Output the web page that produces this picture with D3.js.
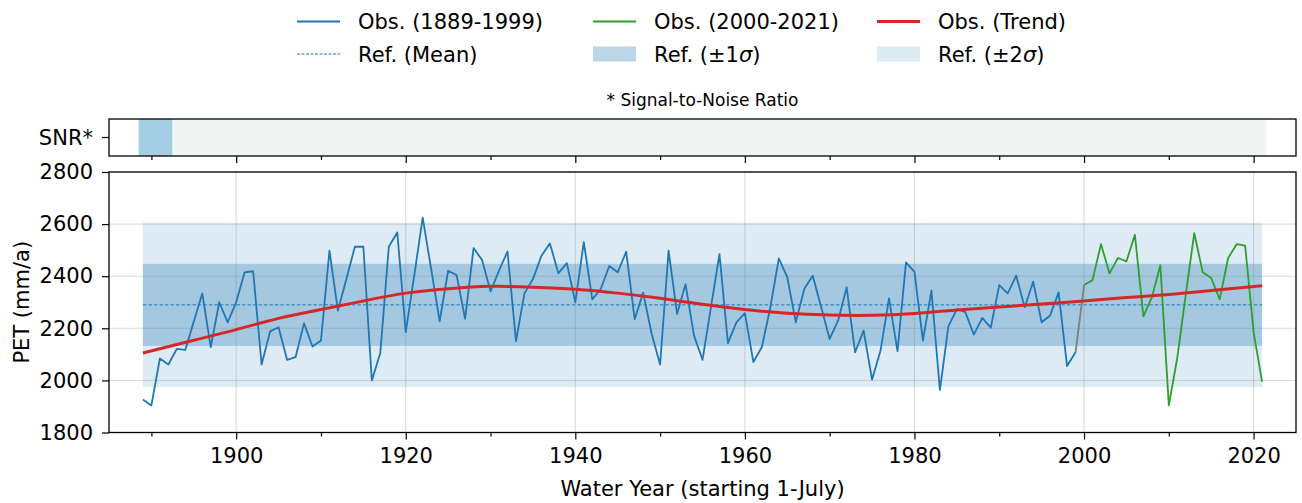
<!DOCTYPE html>
<html><head><meta charset="utf-8">
<script src="https://cdn.jsdelivr.net/npm/d3@7"></script>
<style>body{margin:0;background:#fff} text{font-family:"DejaVu Sans",sans-serif;fill:#000}</style>
</head><body><svg id="c" width="1302" height="503"></svg>
<script>
// ---- data ----
const obs1Start = 1889;
const obs1 = [
  1927,1904,2084,2061,2121,2117,2226,2334,2128,2300,2223,      // 1889-1899
  2300,2415,2419,2061,2188,2204,2079,2089,2219,2130,           // 1900s
  2153,2498,2268,2389,2513,2513,2000,2105,2513,2568,           // 1910s
  2185,2402,2625,2427,2227,2421,2404,2236,2508,2462,           // 1920s
  2342,2421,2495,2151,2334,2389,2478,2526,2411,2450,           // 1930s
  2300,2531,2311,2351,2439,2415,2494,2235,2337,2179,           // 1940s
  2061,2498,2255,2369,2172,2079,2281,2485,2143,2223,           // 1950s
  2258,2070,2128,2280,2468,2396,2223,2351,2402,2281,           // 1960s
  2159,2230,2357,2108,2191,2003,2115,2315,2112,2453,           // 1970s
  2417,2153,2345,1963,2207,2274,2262,2176,2240,2202,           // 1980s
  2366,2334,2402,2281,2379,2223,2249,2338,2055,2108            // 1990s
];
const obs2Start = 2000;
const obs2 = [
  2366,2385,2523,2411,2470,2457,2559,2246,2319,2442,
  1904,2087,2330,2565,2415,2393,2311,2470,2523,2517,
  2185,1994
];
const trendYears  = [1889,1895,1900,1905,1910,1915,1920,1925,1930,1935,1940,1945,1950,1955,1960,1965,1970,1975,1980,1985,1990,1995,2000,2005,2010,2015,2021];
const trendValues = [2105,2154,2195,2238,2272,2305,2335,2352,2361,2358,2350,2335,2315,2292,2272,2258,2251,2250,2257,2270,2282,2293,2305,2318,2330,2345,2363];
const refMean = 2290;
const refSigma = 157.5;
const refSpan = [1889, 2021];
const snrSegments = [[1889, 1892], [1893, 2021]];
const snrColors = ["#a6cee3", "#f3f5f4"];
const xMajorTicks = [1900, 1920, 1940, 1960, 1980, 2000, 2020];
const xMinorTicks = [1890, 1910, 1930, 1950, 1970, 1990, 2010];
const yTicks = [1800, 2000, 2200, 2400, 2600, 2800];
const legendRows = [
  [{label:["Obs. (1889-1999)"], type:"line", color:"#1f77b4", w:1.8},
   {label:["Obs. (2000-2021)"], type:"line", color:"#2ca02c", w:1.8},
   {label:["Obs. (Trend)"], type:"line", color:"#d62728", w:3}],
  [{label:["Ref. (Mean)"], type:"dash", color:"#1f77b4", w:1},
   {label:["Ref. (\u00b11", "\u03c3", ")"], type:"patch", color:"#bcd6e8"},
   {label:["Ref. (\u00b12", "\u03c3", ")"], type:"patch", color:"#ddebf4"}]
];

// ---- layout ----
const FS = 21;
const svg = d3.select("#c");
const L = 109, R = 1296;
const main = {top:172, bottom:432.5};
const snr = {top:119, bottom:156};
const x = d3.scaleLinear().domain([1885, 2025]).range([L, R]);
const y = d3.scaleLinear().domain([1800, 2800]).range([main.bottom, main.top]);

const C0 = "#1f77b4";

// bands
const g = svg.append("g");
g.append("rect").attr("x", x(refSpan[0])).attr("width", x(refSpan[1]) - x(refSpan[0]))
  .attr("y", y(refMean + 2*refSigma)).attr("height", y(refMean - 2*refSigma) - y(refMean + 2*refSigma))
  .attr("fill", C0).attr("fill-opacity", 0.15);
g.append("rect").attr("x", x(refSpan[0])).attr("width", x(refSpan[1]) - x(refSpan[0]))
  .attr("y", y(refMean + refSigma)).attr("height", y(refMean - refSigma) - y(refMean + refSigma))
  .attr("fill", C0).attr("fill-opacity", 0.3);

// grid
const grid = svg.append("g").attr("stroke", "#808080").attr("stroke-opacity", 0.3).attr("stroke-width", 1);
xMajorTicks.forEach(t => grid.append("line").attr("x1", x(t)).attr("x2", x(t)).attr("y1", main.top).attr("y2", main.bottom));
yTicks.forEach(t => grid.append("line").attr("x1", L).attr("x2", R).attr("y1", y(t)).attr("y2", y(t)));

// mean line
svg.append("line").attr("x1", x(refSpan[0])).attr("x2", x(refSpan[1]))
  .attr("y1", y(refMean)).attr("y2", y(refMean))
  .attr("stroke", C0).attr("stroke-width", 1).attr("stroke-dasharray", "3.5,2");

// observations
const d1 = obs1.map((v, i) => [obs1Start + i, v]);
const d2 = obs2.map((v, i) => [obs2Start + i, v]);
const line = d3.line().x(d => x(d[0])).y(d => y(d[1]));
svg.append("path").attr("d", line([d1[d1.length-1], d2[0]])).attr("fill", "none")
  .attr("stroke", "#7f7f7f").attr("stroke-width", 1.8);
svg.append("path").attr("d", line(d1)).attr("fill", "none").attr("stroke", C0).attr("stroke-width", 1.8).attr("stroke-linejoin", "round");
svg.append("path").attr("d", line(d2)).attr("fill", "none").attr("stroke", "#2ca02c").attr("stroke-width", 1.8).attr("stroke-linejoin", "round");

// trend
const trend = trendYears.map((t, i) => [t, trendValues[i]]);
svg.append("path").attr("d", d3.line().x(d => x(d[0])).y(d => y(d[1])).curve(d3.curveNatural)(trend))
  .attr("fill", "none").attr("stroke", "#d62728").attr("stroke-width", 3).attr("stroke-linecap", "butt");

// main frame
svg.append("rect").attr("x", L).attr("y", main.top).attr("width", R - L).attr("height", main.bottom - main.top)
  .attr("fill", "none").attr("stroke", "#000").attr("stroke-width", 1.3);

// axes
const xAxis = svg.append("g").attr("transform", `translate(0,${main.bottom})`)
  .call(d3.axisBottom(x).tickValues(xMajorTicks).tickFormat(d3.format("d")).tickSize(7).tickPadding(9));
const xMinor = svg.append("g").attr("transform", `translate(0,${main.bottom})`)
  .call(d3.axisBottom(x).tickValues(xMinorTicks).tickFormat("").tickSize(4));
const yAxis = svg.append("g").attr("transform", `translate(${L},0)`)
  .call(d3.axisLeft(y).tickValues(yTicks).tickFormat(d3.format("d")).tickSize(7).tickPadding(9));
[xAxis, xMinor, yAxis].forEach(a => {
  a.select(".domain").remove();
  a.selectAll("line").attr("stroke", "#000").attr("stroke-width", 1.2);
  a.selectAll("text").attr("font-size", FS).attr("font-family", "DejaVu Sans");
});

// SNR panel
snrSegments.forEach((s, i) => {
  svg.append("rect").attr("x", x(s[0] - 0.5)).attr("width", x(s[1] + 0.5) - x(s[0] - 0.5))
    .attr("y", snr.top).attr("height", snr.bottom - snr.top).attr("fill", snrColors[i]);
});
svg.append("rect").attr("x", L).attr("y", snr.top).attr("width", R - L).attr("height", snr.bottom - snr.top)
  .attr("fill", "none").attr("stroke", "#000").attr("stroke-width", 1.3);
const sx1 = svg.append("g").attr("transform", `translate(0,${snr.bottom})`)
  .call(d3.axisBottom(x).tickValues(xMajorTicks).tickFormat("").tickSize(7));
const sx2 = svg.append("g").attr("transform", `translate(0,${snr.bottom})`)
  .call(d3.axisBottom(x).tickValues(xMinorTicks).tickFormat("").tickSize(4));
[sx1, sx2].forEach(a => { a.select(".domain").remove(); a.selectAll("line").attr("stroke", "#000").attr("stroke-width", 1.2); });
const snrY = (snr.top + snr.bottom) / 2;
svg.append("line").attr("x1", L - 7).attr("x2", L).attr("y1", snrY).attr("y2", snrY).attr("stroke", "#000").attr("stroke-width", 1.2);
svg.append("text").attr("x", L - 16).attr("y", snrY).attr("dy", "0.35em").attr("text-anchor", "end")
  .attr("font-size", FS).text("SNR*");
svg.append("text").attr("x", (L + R) / 2).attr("y", 106).attr("text-anchor", "middle")
  .attr("font-size", 17).text("* Signal-to-Noise Ratio");

// axis labels
svg.append("text").attr("x", (L + R) / 2).attr("y", 496).attr("text-anchor", "middle")
  .attr("font-size", FS).text("Water Year (starting 1-July)");
svg.append("text").attr("transform", `translate(29,${(main.top + main.bottom) / 2}) rotate(-90)`)
  .attr("text-anchor", "middle").attr("font-size", FS).text("PET (mm/a)");

// legend
const colX = [297, 593, 877];
const rowY = [21.5, 54];
legendRows.forEach((row, ri) => row.forEach((it, ci) => {
  const gx = colX[ci], gy = rowY[ri];
  if (it.type === "patch") {
    svg.append("rect").attr("x", gx).attr("y", gy - 7.5).attr("width", 43).attr("height", 15).attr("fill", it.color);
  } else {
    svg.append("line").attr("x1", gx).attr("x2", gx + 43).attr("y1", gy).attr("y2", gy)
      .attr("stroke", it.color).attr("stroke-width", it.w)
      .attr("stroke-dasharray", it.type === "dash" ? "3,1.5" : null);
  }
  const t = svg.append("text").attr("x", gx + 61).attr("y", gy).attr("dy", "0.36em").attr("font-size", FS);
  it.label.forEach((part, pi) => t.append("tspan").attr("font-style", pi === 1 ? "italic" : null).text(part));
}));
</script></body></html>
